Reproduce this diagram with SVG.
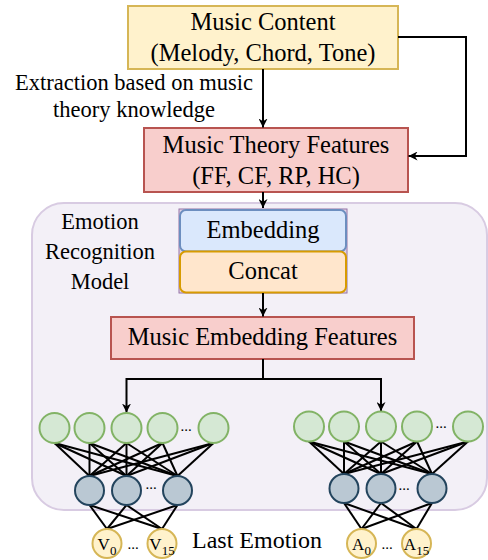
<svg xmlns="http://www.w3.org/2000/svg" width="488" height="560" viewBox="0 0 488 560">
<defs>
<style>
text{font-family:"Liberation Serif","Times New Roman",serif;fill:#000}
.bt{font-size:24.5px;text-anchor:middle}
.lb{font-size:22.5px;text-anchor:middle}
.dots{font-size:15px;text-anchor:middle}
.sym{font-size:17px;text-anchor:middle}
.con{fill:none;stroke:#000;stroke-width:2}
.net{stroke:#000;stroke-width:2}
.g{fill:#d5e8d4;stroke:#82b366;stroke-width:2}
.b{fill:#bac8d3;stroke:#23445d;stroke-width:2}
.y{fill:#fff2cc;stroke:#d6b656;stroke-width:2}
</style>
<marker id="ah" viewBox="0 0 10 10" refX="10" refY="5" markerWidth="9" markerHeight="9" markerUnits="userSpaceOnUse" orient="auto">
<path d="M0,0 L10,5 L0,10 L3,5 z" fill="#000"/>
</marker>
</defs>

<g id="container">
<rect x="32" y="203" width="455" height="307" rx="32" fill="#f3f0f7" stroke="#d8cbe2" stroke-width="2"/>
<text class="lb" x="100" y="229">Emotion</text>
<text class="lb" x="100" y="259">Recognition</text>
<text class="lb" x="100" y="289">Model</text>
</g>

<g id="music-content">
<rect x="128" y="6" width="270" height="63" fill="#fff2cc" stroke="#d6b656" stroke-width="2"/>
<text class="bt" x="263" y="30">Music Content</text>
<text class="bt" x="263" y="61">(Melody, Chord, Tone)</text>
</g>

<g id="extraction-label">
<text class="lb" x="134" y="90">Extraction based on music</text>
<text class="lb" x="134" y="117">theory knowledge</text>
</g>

<g id="music-theory-features">
<rect x="144" y="128" width="264" height="64" fill="#f8cecc" stroke="#b85450" stroke-width="2"/>
<text class="bt" x="276" y="153">Music Theory Features</text>
<text class="bt" x="276" y="184">(FF, CF, RP, HC)</text>
</g>

<g id="embedding-concat">
<rect x="179" y="209" width="168" height="84" fill="#e1d5e7" stroke="#9673a6" stroke-width="1"/>
<rect x="180" y="210" width="166" height="41.5" rx="6" fill="#dae8fc" stroke="#6c8ebf" stroke-width="2"/>
<text class="bt" x="263" y="237.5">Embedding</text>
<rect x="180" y="251.5" width="166" height="41" rx="6" fill="#ffe6cc" stroke="#d79b00" stroke-width="2"/>
<text class="bt" x="263" y="278.5">Concat</text>
</g>

<g id="music-embedding-features">
<rect x="111" y="317" width="303" height="42" fill="#f8cecc" stroke="#b85450" stroke-width="2"/>
<text class="bt" x="262.5" y="345">Music Embedding Features</text>
</g>

<g id="connectors">
<path class="con" d="M263,69 L263,127.5" marker-end="url(#ah)"/>
<path class="con" d="M398,37 L466,37 L466,156 L408.5,156" marker-end="url(#ah)"/>
<path class="con" d="M263,192 L263,208" marker-end="url(#ah)"/>
<path class="con" d="M263,293 L263,316.5" marker-end="url(#ah)"/>
<path class="con" d="M263,359 L263,379"/>
<path class="con" d="M263,379 L126.5,379 L126.5,412.5" marker-end="url(#ah)"/>
<path class="con" d="M263,379 L381,379 L381,411" marker-end="url(#ah)"/>
</g>

<g id="valence-network">
<g class="net">
<line x1="54.5" y1="443" x2="89.5" y2="476"/><line x1="54.5" y1="443" x2="126.5" y2="476"/><line x1="54.5" y1="443" x2="177.5" y2="476"/>
<line x1="89.5" y1="443" x2="89.5" y2="476"/><line x1="89.5" y1="443" x2="126.5" y2="476"/><line x1="89.5" y1="443" x2="177.5" y2="476"/>
<line x1="126.5" y1="443" x2="89.5" y2="476"/><line x1="126.5" y1="443" x2="126.5" y2="476"/><line x1="126.5" y1="443" x2="177.5" y2="476"/>
<line x1="162.5" y1="443" x2="89.5" y2="476"/><line x1="162.5" y1="443" x2="126.5" y2="476"/><line x1="162.5" y1="443" x2="177.5" y2="476"/>
<line x1="213.5" y1="443" x2="89.5" y2="476"/><line x1="213.5" y1="443" x2="126.5" y2="476"/><line x1="213.5" y1="443" x2="177.5" y2="476"/>
<line x1="89.5" y1="505" x2="107" y2="529"/><line x1="89.5" y1="505" x2="162" y2="529"/>
<line x1="126.5" y1="505" x2="107" y2="529"/><line x1="126.5" y1="505" x2="162" y2="529"/>
<line x1="177.5" y1="505" x2="107" y2="529"/><line x1="177.5" y1="505" x2="162" y2="529"/>
</g>
<circle class="g" cx="54.5" cy="428" r="15"/><circle class="g" cx="89.5" cy="428" r="15"/><circle class="g" cx="126.5" cy="428" r="15"/><circle class="g" cx="162.5" cy="428" r="15"/><circle class="g" cx="213.5" cy="428" r="15"/>
<text class="dots" x="186" y="430.5">...</text>
<circle class="b" cx="89.5" cy="490.5" r="14.5"/><circle class="b" cx="126.5" cy="490.5" r="14.5"/><circle class="b" cx="177.5" cy="490.5" r="14.5"/>
<text class="dots" x="151" y="488.5">...</text>
<circle class="y" cx="107" cy="543.5" r="14.5"/><circle class="y" cx="162" cy="543.5" r="14.5"/>
<text class="sym" x="107" y="550">V<tspan font-size="13" dy="5">0</tspan></text>
<text class="sym" x="162" y="550">V<tspan font-size="13" dy="5">15</tspan></text>
<text class="dots" x="133" y="549">...</text>
</g>

<g id="arousal-network">
<g class="net">
<line x1="309" y1="441.5" x2="344" y2="474"/><line x1="309" y1="441.5" x2="381" y2="474"/><line x1="309" y1="441.5" x2="432" y2="474"/>
<line x1="344" y1="441.5" x2="344" y2="474"/><line x1="344" y1="441.5" x2="381" y2="474"/><line x1="344" y1="441.5" x2="432" y2="474"/>
<line x1="381" y1="441.5" x2="344" y2="474"/><line x1="381" y1="441.5" x2="381" y2="474"/><line x1="381" y1="441.5" x2="432" y2="474"/>
<line x1="417" y1="441.5" x2="344" y2="474"/><line x1="417" y1="441.5" x2="381" y2="474"/><line x1="417" y1="441.5" x2="432" y2="474"/>
<line x1="468" y1="441.5" x2="344" y2="474"/><line x1="468" y1="441.5" x2="381" y2="474"/><line x1="468" y1="441.5" x2="432" y2="474"/>
<line x1="344" y1="503" x2="361.5" y2="529"/><line x1="344" y1="503" x2="416.5" y2="529"/>
<line x1="381" y1="503" x2="361.5" y2="529"/><line x1="381" y1="503" x2="416.5" y2="529"/>
<line x1="432" y1="503" x2="361.5" y2="529"/><line x1="432" y1="503" x2="416.5" y2="529"/>
</g>
<circle class="g" cx="309" cy="426.5" r="15"/><circle class="g" cx="344" cy="426.5" r="15"/><circle class="g" cx="381" cy="426.5" r="15"/><circle class="g" cx="417" cy="426.5" r="15"/><circle class="g" cx="468" cy="426.5" r="15"/>
<text class="dots" x="441" y="428">...</text>
<circle class="b" cx="344" cy="488.5" r="14.5"/><circle class="b" cx="381" cy="488.5" r="14.5"/><circle class="b" cx="432" cy="488.5" r="14.5"/>
<text class="dots" x="404" y="489.5">...</text>
<circle class="y" cx="361.5" cy="543.5" r="14.5"/><circle class="y" cx="416.5" cy="543.5" r="14.5"/>
<text class="sym" x="361.5" y="550">A<tspan font-size="13" dy="5">0</tspan></text>
<text class="sym" x="416.5" y="550">A<tspan font-size="13" dy="5">15</tspan></text>
<text class="dots" x="387" y="549">...</text>
</g>

<g id="last-emotion">
<text x="192" y="548" style="font-size:24px">Last Emotion</text>
</g>
</svg>
